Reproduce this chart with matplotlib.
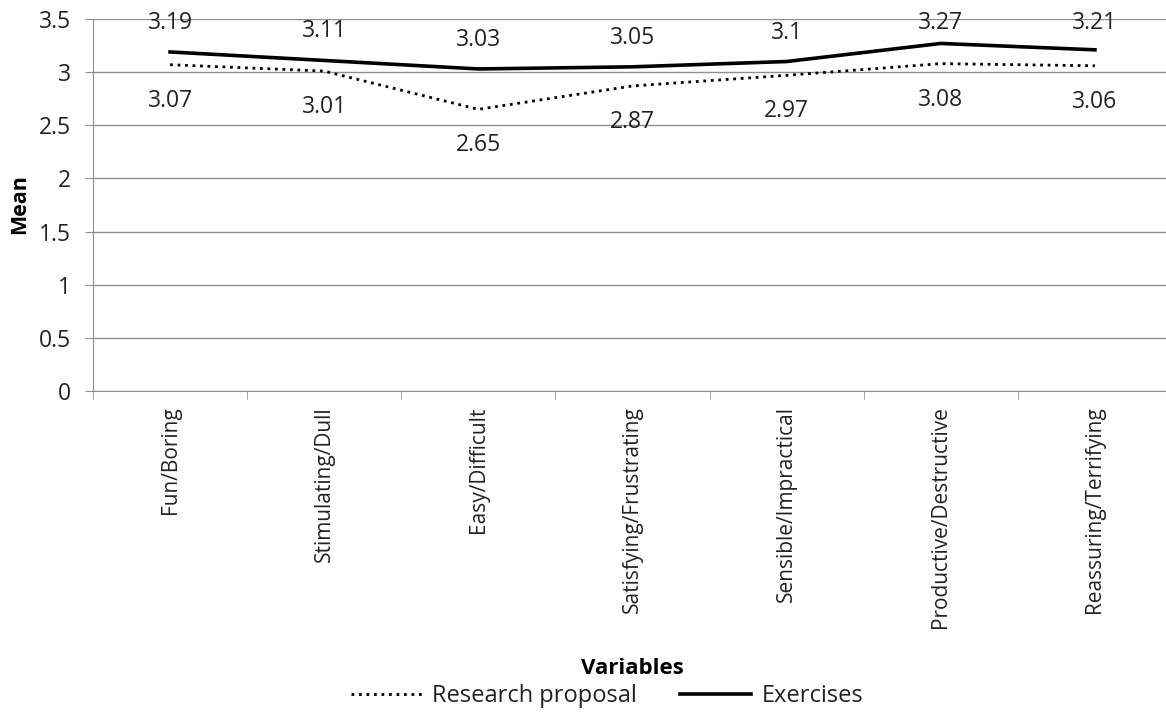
import matplotlib
matplotlib.use('Agg')
import matplotlib.pyplot as plt

# Mean score per variable for both tasks
variables = ['Fun/Boring', 'Stimulating/Dull', 'Easy/Difficult', 'Satisfying/Frustrating',
             'Sensible/Impractical', 'Productive/Destructive', 'Reassuring/Terrifying']
research = [3.07, 3.01, 2.65, 2.87, 2.97, 3.08, 3.06]
exercises = [3.19, 3.11, 3.03, 3.05, 3.1, 3.27, 3.21]
y_ticks = [0, 0.5, 1, 1.5, 2, 2.5, 3, 3.5]

plt.rcParams['font.family'] = ['Open Sans', 'DejaVu Sans']
grid_col = '#909090'
text_col = '#222222'

fig = plt.figure(figsize=(11.66, 7.13), dpi=100)
ax = fig.add_axes([93 / 1166, 1 - 391 / 713, 1079 / 1166, 372 / 713])

x = list(range(len(variables)))
ax.plot(x, research, color='black', linewidth=2, linestyle=(0, (1, 1.7)), label='Research proposal')
ax.plot(x, exercises, color='black', linewidth=2.6, label='Exercises')

ax.set_xlim(-0.5, len(variables) - 0.5)
ax.set_ylim(0, 3.5)

# value labels: exercises above (kept inside the plot area), research proposal below
px_per_unit = ax.bbox.height / 3.5
for i in x:
    room = (3.5 - exercises[i]) * px_per_unit - 4
    up = min(29, room) * 72 / fig.dpi
    ax.annotate(f'{exercises[i]:g}', (i, exercises[i]), xytext=(0, up), textcoords='offset points',
                ha='center', va='center', fontsize=16.5, color=text_col)
    ax.annotate(f'{research[i]:g}', (i, research[i]), xytext=(0, -26), textcoords='offset points',
                ha='center', va='center', fontsize=16.5, color=text_col)

ax.set_yticks(y_ticks)
ax.set_yticklabels([f'{t:g}' for t in y_ticks], fontsize=16.5, color=text_col)
ax.set_xticks(x)
ax.set_xticklabels(variables, rotation=90, fontsize=15, color=text_col)
ax.set_xticks([i - 0.5 for i in range(len(variables) + 1)], minor=True)
ax.tick_params(axis='x', which='major', length=0, pad=11)
ax.tick_params(axis='x', which='minor', length=6, color=grid_col, direction='out')
ax.tick_params(axis='y', length=6, color=grid_col, direction='out', pad=10)

ax.grid(axis='y', color=grid_col, linewidth=1)
ax.set_axisbelow(True)
for side in ['top', 'right']:
    ax.spines[side].set_visible(False)
for side in ['left', 'bottom']:
    ax.spines[side].set_color(grid_col)

fig.text(20 / 1166, 1 - 204 / 713, 'Mean', rotation=90, ha='center', va='center',
         fontsize=15.5, fontweight='bold', color='black')
fig.text(632 / 1166, 1 - 668 / 713, 'Variables', ha='center', va='center',
         fontsize=16, fontweight='bold', color='black')

fig.legend(loc='center', bbox_to_anchor=(607 / 1166, 1 - 696 / 713), ncol=2, frameon=False,
           fontsize=17, handlelength=3.0, columnspacing=1.8, handletextpad=0.45,
           labelcolor=text_col)

fig.savefig('out.png', dpi=100, facecolor='white')
